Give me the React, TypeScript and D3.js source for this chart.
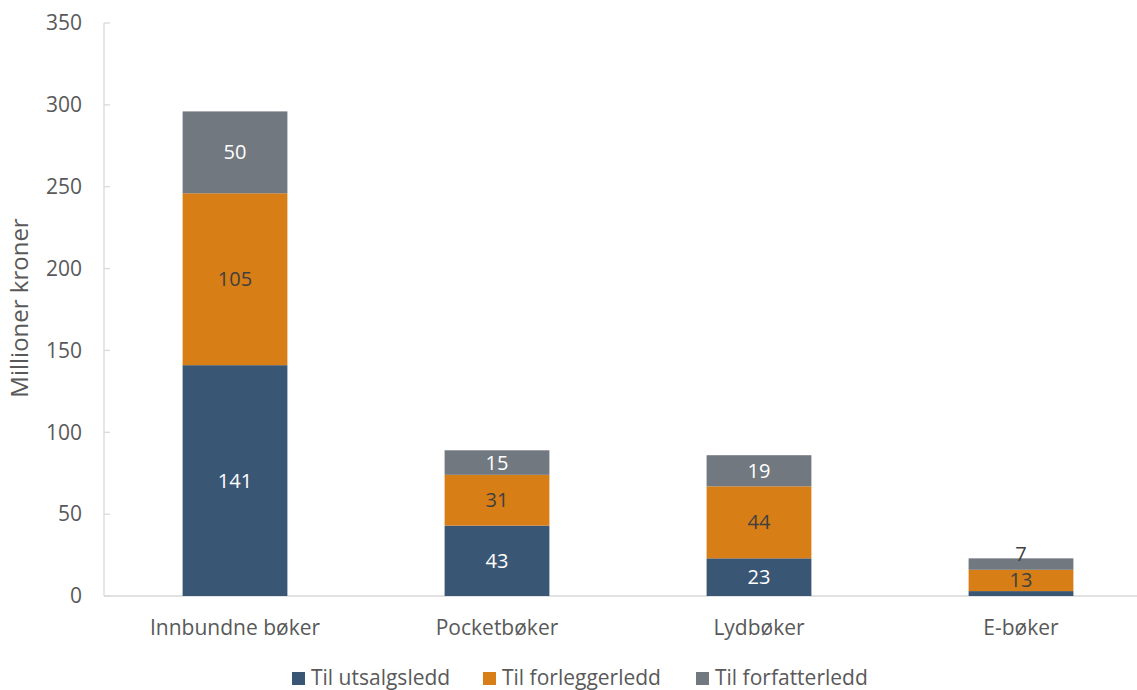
import React from "react";
import * as d3 from "d3";

const categories = ["Innbundne bøker", "Pocketbøker", "Lydbøker", "E-bøker"];
const seriesNames = ["Til utsalgsledd", "Til forleggerledd", "Til forfatterledd"];
const utsalgsledd = [141, 43, 23, 3];
const forleggerledd = [105, 31, 44, 13];
const forfatterledd = [50, 15, 19, 7];
const yTicks = [0, 50, 100, 150, 200, 250, 300, 350];
const colors = ["#3a5675", "#d77e17", "#717880"];
const labelColors = ["#ffffff", "#404040", "#ffffff"];
const hiddenLabels = [[false, false, false, true]];

const W = 1137, H = 690;
const FONT = "'Open Sans', Lato, sans-serif";

export default function App() {
  const x = d3.scaleBand<string>().domain(categories).range([104, 1152]).paddingInner(0.6).paddingOuter(0.3);
  const y = d3.scaleLinear().domain([0, 350]).range([596, 23]);
  const series = [utsalgsledd, forleggerledd, forfatterledd];
  const table = categories.map((c, i) => ({ cat: c, s0: series[0][i], s1: series[1][i], s2: series[2][i] }));
  const stacked = d3.stack<any>().keys(["s0", "s1", "s2"])(table);
  const legendX = [292, 483, 696];

  return (
    <div style={{ position: "fixed", left: 0, top: 0 }}>
      <svg width={W} height={H} style={{ display: "block", fontFamily: FONT }}>
        <rect width={W} height={H} fill="#fff" />
        <line x1={104} x2={104} y1={23} y2={596} stroke="#d9d9d9" strokeWidth={1.3} />
        <line x1={104} x2={W} y1={596} y2={596} stroke="#d9d9d9" strokeWidth={1.3} />
        {yTicks.map((t) => (
          <g key={t}>
            <line x1={104} x2={110} y1={y(t)} y2={y(t)} stroke="#d9d9d9" strokeWidth={1.3} />
            <text x={82} y={y(t)} dy="0.35em" textAnchor="end" fontSize={21} fill="#595959">{t}</text>
          </g>
        ))}
        <text transform={`translate(28,${308}) rotate(-90)`} textAnchor="middle" fontSize={24} fill="#595959">Millioner kroner</text>
        {categories.map((c) => (
          <text key={c} x={x(c)! + x.bandwidth() / 2} y={628} dy="0.35em" textAnchor="middle" fontSize={21} fill="#595959">{c}</text>
        ))}
        {stacked.map((layer, si) => (
          <g key={si}>
            {layer.map((d, ci) => (
              <rect key={ci} x={x(categories[ci])!} width={x.bandwidth()} y={y(d[1])} height={y(d[0]) - y(d[1])} fill={colors[si]} />
            ))}
          </g>
        ))}
        {stacked.map((layer, si) => (
          <g key={"l" + si}>
            {layer.map((d, ci) => {
              if (si === 0 && hiddenLabels[0][ci]) return null;
              const v = series[si][ci];
              const small = y(d[0]) - y(d[1]) < 20;
              const cy = small ? y(d[1]) - 4 : (y(d[0]) + y(d[1])) / 2;
              return (
                <text key={ci} x={x(categories[ci])! + x.bandwidth() / 2} y={cy} dy="0.35em" textAnchor="middle" fontSize={20}
                  fill={small ? "#404040" : labelColors[si]}>{v}</text>
              );
            })}
          </g>
        ))}
        {seriesNames.map((s, i) => (
          <g key={s}>
            <rect x={legendX[i]} y={672} width={13} height={13} fill={colors[i]} />
            <text x={legendX[i] + 19} y={678} dy="0.35em" fontSize={21} fill="#595959">{s}</text>
          </g>
        ))}
      </svg>
    </div>
  );
}
